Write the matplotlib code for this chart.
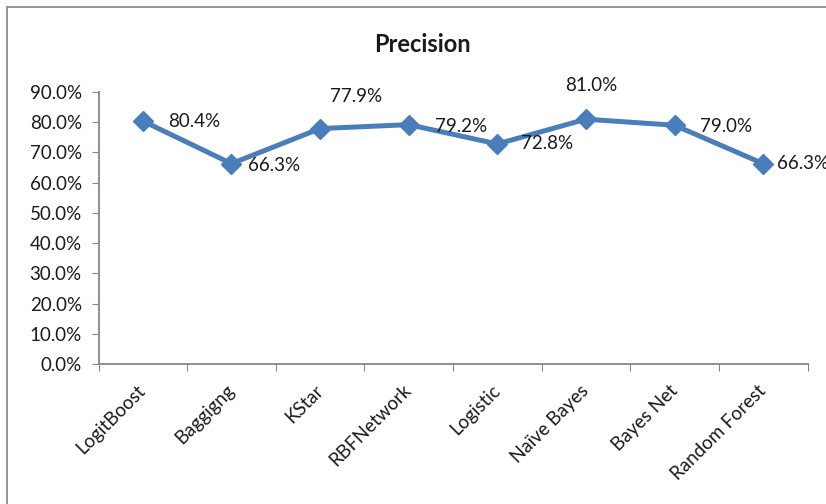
import matplotlib

matplotlib.use("Agg")
import matplotlib.pyplot as plt
from matplotlib.patches import Rectangle
from matplotlib.ticker import FixedLocator, PercentFormatter

plt.rcParams["font.family"] = ["Lato", "DejaVu Sans"]

CLASSIFIERS = ["LogitBoost", "Baggigng", "KStar", "RBFNetwork", "Logistic",
               "Naïve Bayes", "Bayes Net", "Random Forest"]
PRECISION = [80.4, 66.3, 77.9, 79.2, 72.8, 81.0, 79.0, 66.3]

# value label placement: (dx, dy) in points from the marker, horizontal anchor
LABEL_OFFSETS = [(18, 0, "left"), (12, -1, "left"), (26, 23, "center"),
                 (19, -1, "left"), (17, 0, "left"), (4, 24, "center"),
                 (18, -1, "left"), (10, 0, "left")]

LINE_BLUE = "#4A7EBB"
AXIS_GRAY = "#868686"
TEXT = "#1a1a1a"

fig = plt.figure(figsize=(8.26, 5.04), dpi=100)
ax = fig.add_axes([98.5 / 826, 1 - 364 / 504, 709 / 826, 272 / 504])

x = list(range(len(CLASSIFIERS)))
ax.plot(x, PRECISION, color=LINE_BLUE, linewidth=3.6, marker="D",
        markersize=10.5, markerfacecolor=LINE_BLUE, markeredgecolor=LINE_BLUE,
        clip_on=False, zorder=3)

for xi, v, (dx, dy, ha) in zip(x, PRECISION, LABEL_OFFSETS):
    ax.annotate(f"{v:.1f}%", (xi, v), xytext=(dx, dy), textcoords="offset points",
                ha=ha, va="center", fontsize=13.5, color=TEXT, annotation_clip=False)

ax.set_xlim(-0.5, len(CLASSIFIERS) - 0.5)
ax.set_ylim(0, 90)
ax.yaxis.set_major_locator(FixedLocator(range(0, 91, 10)))
ax.yaxis.set_major_formatter(PercentFormatter(decimals=1))

# category ticks sit on the boundaries, labels at the centres
ax.set_xticks([i - 0.5 for i in range(len(CLASSIFIERS) + 1)])
ax.set_xticklabels([])
ax.set_xticks(x, minor=True)
ax.set_xticklabels(CLASSIFIERS, minor=True, rotation=45, ha="right", va="center",
                   rotation_mode="anchor", fontsize=13.5, color=TEXT)
ax.tick_params(axis="x", which="minor", length=0, pad=17)
ax.tick_params(axis="x", which="major", length=5, color=AXIS_GRAY, direction="out")
ax.tick_params(axis="y", length=5, color=AXIS_GRAY, direction="out",
               labelsize=13.5, labelcolor=TEXT, pad=7)

for s in ("top", "right"):
    ax.spines[s].set_visible(False)
for s in ("left", "bottom"):
    ax.spines[s].set_color(AXIS_GRAY)
    ax.spines[s].set_linewidth(1.3)

fig.text(422 / 826, 1 - 44 / 504, "Precision", ha="center", va="center",
         fontsize=17, fontweight="bold", color=TEXT)

# chart frame
fig.patches.append(Rectangle((7.5 / 826, -0.1), 1.2, 1.1 - 7.5 / 504,
                             transform=fig.transFigure, fill=False,
                             edgecolor="#8c8c8c", linewidth=1.3))

fig.savefig("out.png", dpi=100)
